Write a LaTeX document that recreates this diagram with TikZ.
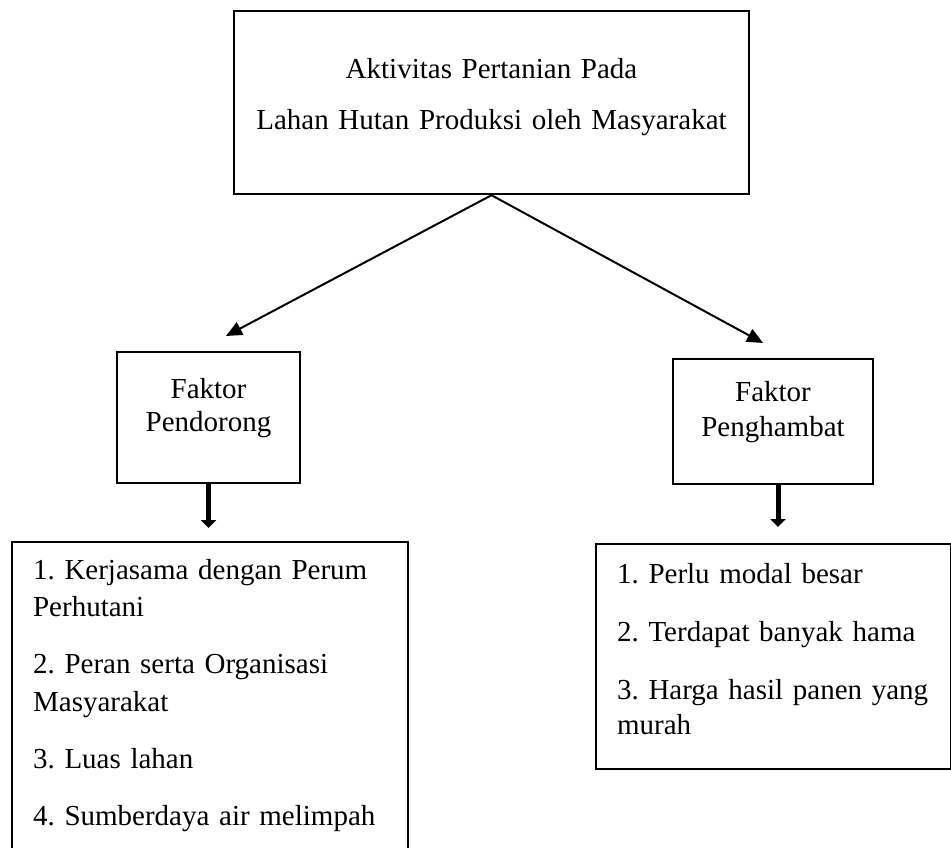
\documentclass[tikz,border=0pt]{standalone}
\usepackage{fontspec}
\setmainfont{Liberation Serif}
\usetikzlibrary{arrows.meta}
\usetikzlibrary{positioning}
\usetikzlibrary{calc}
\frenchspacing

\tikzset{
  box/.style={draw, line width=2.2pt, inner sep=0pt, align=center,
    font=\fontsize{29}{37}\selectfont},
  listbox/.style={box, align=left, inner xsep=21pt, anchor=north west},
  link/.style={-{Triangle[length=16pt,width=14pt]}, line width=2pt},
  down/.style={-{Triangle[length=8pt,width=15pt]}, line width=5pt}
}

\begin{document}
\begin{tikzpicture}[x=1pt,y=-1pt]

        \useasboundingbox (0,0) rectangle (951,848);

        % Top box
        \node[box, anchor=north, text width=515pt, text height=67pt, text depth=116pt]
          (aktivitas) at (491.5,10)
          {Aktivitas Pertanian Pada\\[14pt]Lahan Hutan Produksi oleh Masyarakat};

        % Factor boxes
        \node[box, anchor=north, text width=183pt, text height=46pt, text depth=85pt]
          (pendorong) at (208.5,351) {Faktor\\[-4pt]Pendorong};
        \node[box, anchor=north, text width=200pt, text height=42pt, text depth=83pt]
          (penghambat) at (773,358) {Faktor\\[-2pt]Penghambat};

        % List boxes
        \node[listbox, text width=354pt, text height=37pt, text depth=271pt]
          (listdorong) at (11,541)
          {1. Kerjasama dengan Perum\\[0.5pt]Perhutani\\[20pt]2. Peran serta Organisasi\\[0.5pt]Masyarakat\\[20pt]3. Luas lahan\\[20pt]4. Sumberdaya air melimpah};
        \node[listbox, text width=313pt, text height=39pt, text depth=186pt]
          (listhambat) at (595,543)
          {1. Perlu modal besar\\[21pt]2. Terdapat banyak hama\\[21pt]3. Harga hasil panen yang\\[-2pt]murah};

        % Arrows
        \coordinate (tipdorong) at (226,336);
        \coordinate (tiphambat) at (763,343);
        \draw[link] (aktivitas.south) -- (tipdorong);
        \draw[link] (aktivitas.south) -- (tiphambat);

        \draw[down] (pendorong.south) -- ($(pendorong.south |- listdorong.north)+(0,-13)$);
        \draw[down] ($(penghambat.south)+(5,0)$) -- ($(penghambat.south |- listhambat.north)+(5,-16)$);
    \end{tikzpicture}
\end{document}
